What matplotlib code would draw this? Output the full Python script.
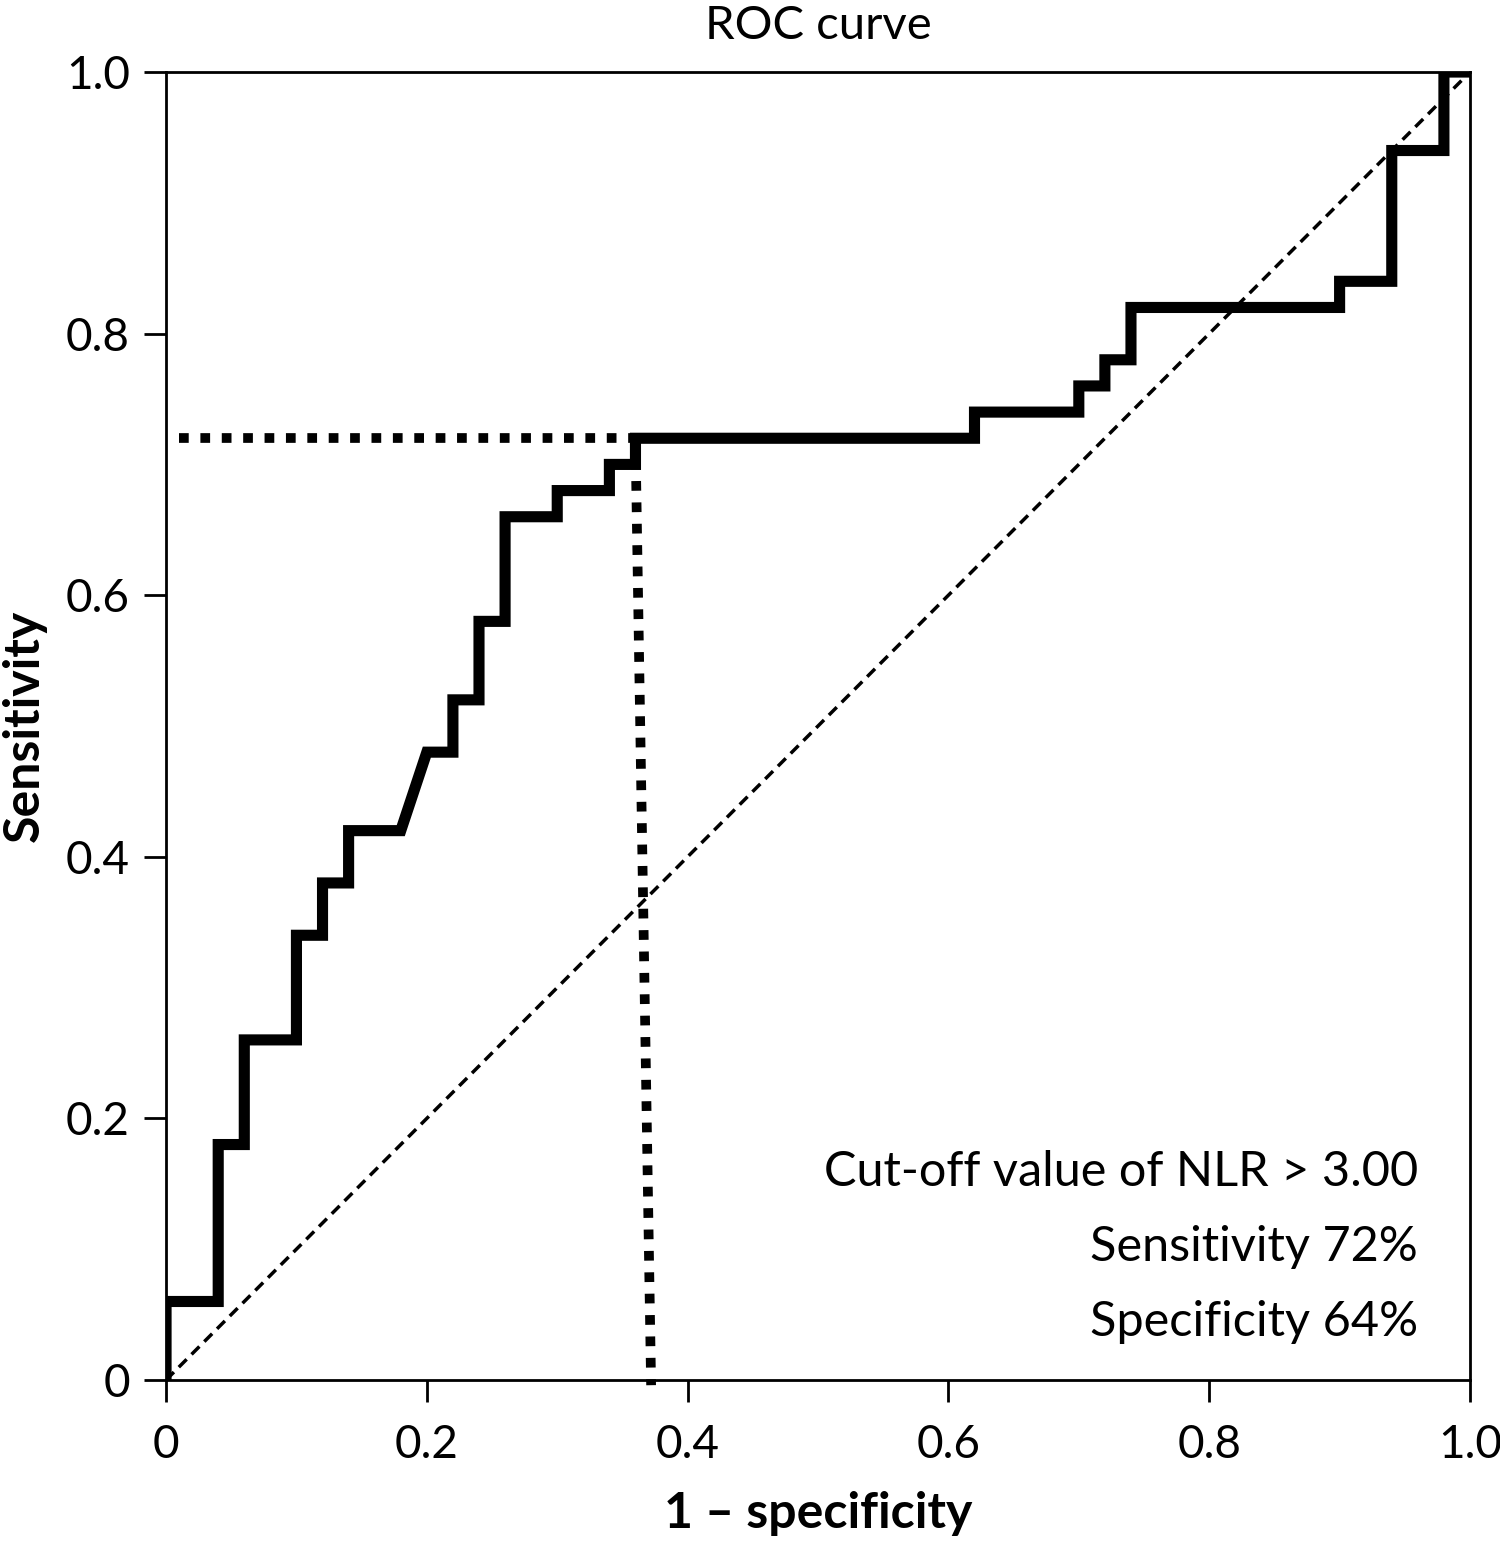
import matplotlib
matplotlib.use("Agg")
import matplotlib.pyplot as plt
from matplotlib.ticker import FixedLocator, FuncFormatter

plt.rcParams['font.family'] = ['Lato', 'DejaVu Sans']

# ROC curve vertices (1 - specificity, sensitivity)
fpr = [0.00, 0.00, 0.04, 0.04, 0.06, 0.06, 0.10, 0.10, 0.12, 0.12, 0.14, 0.14,
       0.18, 0.20, 0.22, 0.22, 0.24, 0.24, 0.26, 0.26, 0.30, 0.30, 0.34, 0.34,
       0.36, 0.36, 0.62, 0.62, 0.70, 0.70, 0.72, 0.72, 0.74, 0.74, 0.90, 0.90,
       0.94, 0.94, 0.98, 0.98, 1.00]
tpr = [0.00, 0.06, 0.06, 0.18, 0.18, 0.26, 0.26, 0.34, 0.34, 0.38, 0.38, 0.42,
       0.42, 0.48, 0.48, 0.52, 0.52, 0.58, 0.58, 0.66, 0.66, 0.68, 0.68, 0.70,
       0.70, 0.72, 0.72, 0.74, 0.74, 0.76, 0.76, 0.78, 0.78, 0.82, 0.82, 0.84,
       0.84, 0.94, 0.94, 1.00, 1.00]

# cut-off guide lines
cut_h_x = [0.01, 0.36]
cut_h_y = [0.72, 0.72]
cut_v_x = [0.36, 0.372]
cut_v_y = [0.72, -0.004]

ticks = [0, 0.2, 0.4, 0.6, 0.8, 1.0]
notes = ["Cut-off value of NLR > 3.00", "Sensitivity 72%", "Specificity 64%"]
note_y = [0.159, 0.102, 0.044]

fig = plt.figure(figsize=(15, 15.46), dpi=100)
ax = fig.add_axes([0.1107, 0.1074, 0.98 - 0.1107, 0.9534 - 0.1074])

ax.plot([0, 1], [0, 1], color='black', lw=2.5, ls=(0, (3.2, 2)))
ax.plot(cut_h_x, cut_h_y, color='black', lw=7, ls=(0, (1, 1.2)), dash_capstyle='butt')
ax.plot(cut_v_x, cut_v_y, color='black', lw=7, ls=(0, (1, 1.2)), dash_capstyle='butt',
        clip_on=False)
ax.plot(fpr, tpr, color='black', lw=8, solid_joinstyle='miter', solid_capstyle='butt')

ax.set_xlim(0, 1)
ax.set_ylim(0, 1)
fmt = FuncFormatter(lambda v, p: '0' if v == 0 else f'{v:.1f}')
for axis in (ax.xaxis, ax.yaxis):
    axis.set_major_locator(FixedLocator(ticks))
    axis.set_major_formatter(fmt)
ax.tick_params(direction='out', length=16, width=2, labelsize=33)
ax.tick_params(axis='x', pad=16)
ax.tick_params(axis='y', pad=10)
for s in ax.spines.values():
    s.set_linewidth(2)

for txt, yy in zip(notes, note_y):
    ax.text(0.96, yy, txt, ha='right', va='center', fontsize=35)

ax.set_title('ROC curve', fontsize=34, pad=24)
ax.set_xlabel('1 – specificity', fontsize=36, fontweight='bold', labelpad=18)
ax.set_ylabel('Sensitivity', fontsize=36, fontweight='bold', labelpad=14)

fig.savefig('out.png', dpi=100)
